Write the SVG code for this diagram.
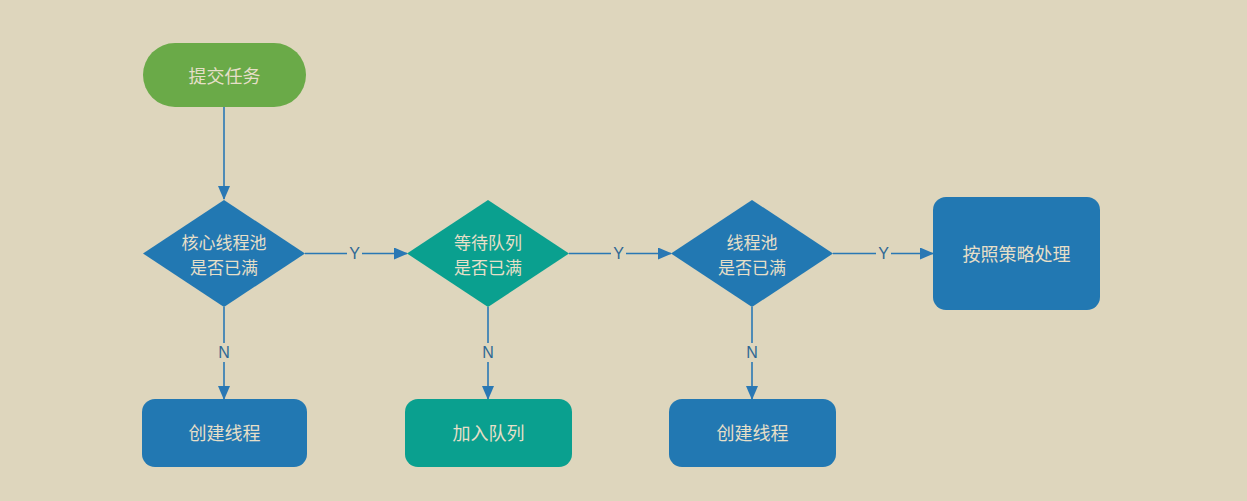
<svg xmlns="http://www.w3.org/2000/svg" width="1247" height="501" viewBox="0 0 1247 501">
<style>
.t{font-family:"Noto Sans CJK SC","Noto Sans",sans-serif;font-size:17px;fill:#e6dfc8;text-anchor:middle;dominant-baseline:central}
.b{font-size:18px}
.l{font-family:"Liberation Sans","Noto Sans",sans-serif;font-size:16px;fill:#2f6894;text-anchor:middle;dominant-baseline:central}
.c{stroke:#2a78b4;stroke-width:1.6;fill:none}
.blue{fill:#2278b2}
.teal{fill:#0aa08f}
.lb{fill:#ded6bd}
</style>
<defs>
<marker id="ah" markerWidth="14" markerHeight="12" refX="13" refY="6" orient="auto" markerUnits="userSpaceOnUse">
<path d="M0,0 L14,6 L0,12 Z" fill="#2a78b4"/>
</marker>
</defs>
<rect width="1247" height="501" fill="#ded6bd"/>
<g id="connectors">
<path class="c" d="M224,107 V199" marker-end="url(#ah)"/>
<path class="c" d="M224,307 V399" marker-end="url(#ah)"/>
<path class="c" d="M305,253.5 H407" marker-end="url(#ah)"/>
<path class="c" d="M488,307 V399" marker-end="url(#ah)"/>
<path class="c" d="M569,253.5 H671" marker-end="url(#ah)"/>
<path class="c" d="M752,307 V399" marker-end="url(#ah)"/>
<path class="c" d="M833,253.5 H933" marker-end="url(#ah)"/>
<rect class="lb" x="347" y="244" width="15" height="19"/>
<text class="l" x="354.5" y="253.5">Y</text>
<rect class="lb" x="611" y="244" width="15" height="19"/>
<text class="l" x="618.5" y="253.5">Y</text>
<rect class="lb" x="876" y="244" width="15" height="19"/>
<text class="l" x="883.5" y="253.5">Y</text>
<rect class="lb" x="216" y="343" width="16" height="19"/>
<text class="l" x="224" y="352.5">N</text>
<rect class="lb" x="480" y="343" width="16" height="19"/>
<text class="l" x="488" y="352.5">N</text>
<rect class="lb" x="744" y="343" width="16" height="19"/>
<text class="l" x="752" y="352.5">N</text>
</g>
<g id="start">
<rect x="143" y="43" width="163" height="64" rx="32" fill="#6aaa48"/>
<text class="t b" x="224.5" y="75">提交任务</text>
</g>
<g id="d1">
<polygon class="blue" points="224,200 305,253.5 224,307 143,253.5"/>
<text class="t" x="224" y="241">核心线程池</text>
<text class="t" x="224" y="266">是否已满</text>
</g>
<g id="d2">
<polygon class="teal" points="488,200 569,253.5 488,307 407,253.5"/>
<text class="t" x="488" y="241">等待队列</text>
<text class="t" x="488" y="266">是否已满</text>
</g>
<g id="d3">
<polygon class="blue" points="752,200 833,253.5 752,307 671,253.5"/>
<text class="t" x="752" y="241">线程池</text>
<text class="t" x="752" y="266">是否已满</text>
</g>
<g id="policy">
<rect class="blue" x="933" y="197" width="167" height="113" rx="13"/>
<text class="t b" x="1016.5" y="253">按照策略处理</text>
</g>
<g id="create1">
<rect class="blue" x="142" y="399" width="165" height="68" rx="13"/>
<text class="t b" x="224.5" y="432">创建线程</text>
</g>
<g id="enqueue">
<rect class="teal" x="405" y="399" width="167" height="68" rx="13"/>
<text class="t b" x="488.5" y="432">加入队列</text>
</g>
<g id="create2">
<rect class="blue" x="669" y="399" width="167" height="68" rx="13"/>
<text class="t b" x="752.5" y="432">创建线程</text>
</g>
</svg>
